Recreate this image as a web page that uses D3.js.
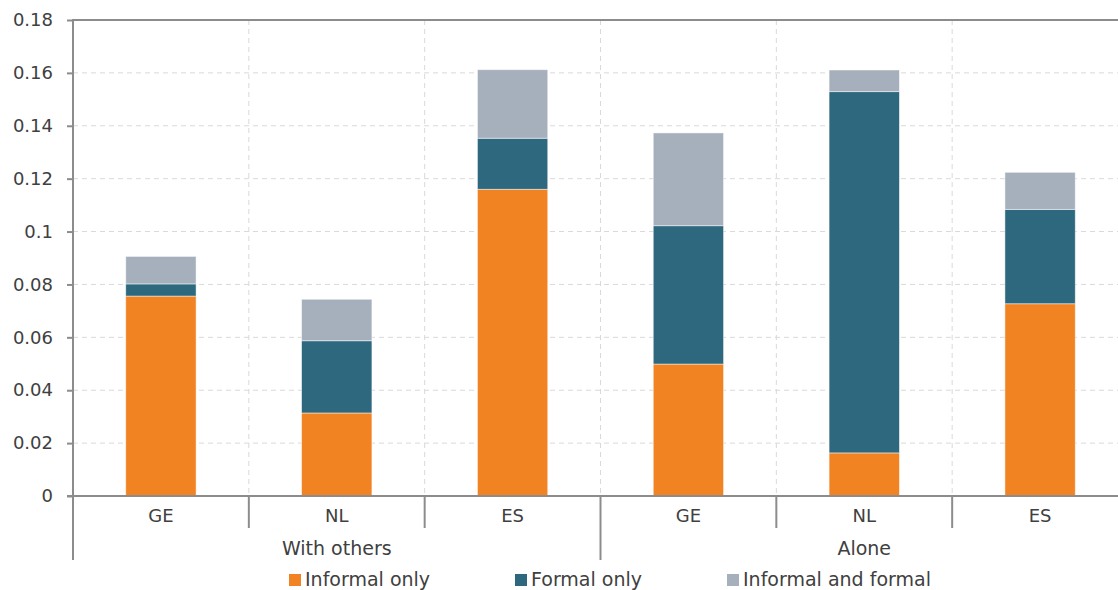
<!DOCTYPE html>
<html><head><meta charset="utf-8">
<script src="https://cdn.jsdelivr.net/npm/d3@7"></script>
<style>body{margin:0;background:#fff}svg{display:block}text{font-family:"DejaVu Sans",sans-serif;fill:#404040}</style>
</head><body><svg id="c" width="1118" height="590"></svg>
<script>
const groups = ["With others", "Alone"];
const countries = ["GE", "NL", "ES"];
const categories = ["With others|GE","With others|NL","With others|ES","Alone|GE","Alone|NL","Alone|ES"];
const seriesNames = ["Informal only", "Formal only", "Informal and formal"];
const informalOnly = [0.0756, 0.0314, 0.1160, 0.0499, 0.0163, 0.0727];
const formalOnly = [0.0046, 0.0273, 0.0193, 0.0523, 0.1366, 0.0357];
const informalAndFormal = [0.0104, 0.0157, 0.0259, 0.0351, 0.0082, 0.0140];
const yTicks = [0, 0.02, 0.04, 0.06, 0.08, 0.1, 0.12, 0.14, 0.16, 0.18];
const colors = ["#F28322", "#2E687E", "#A6B0BD"];

const svg = d3.select("#c");
const L = 73, T = 20, R = 1128, B = 496;
const x = d3.scaleBand().domain(categories).range([L, R]).paddingInner(0.6).paddingOuter(0.3);
const y = d3.scaleLinear().domain([0, 0.18]).range([B, T]);
const step = x.step();
const axisColor = "#8c8c8c";

// gridlines
svg.append("g").selectAll("line").data(yTicks.filter(t => t > 0 && t < 0.18)).join("line")
  .attr("x1", L).attr("x2", R).attr("y1", d => y(d)).attr("y2", d => y(d))
  .attr("stroke", "#d9d9d9").attr("stroke-width", 1).attr("stroke-dasharray", "5,4");
const bounds = categories.slice(1).map((c, i) => L + step * (i + 1));
svg.append("g").selectAll("line").data(bounds).join("line")
  .attr("x1", d => d).attr("x2", d => d).attr("y1", T).attr("y2", B)
  .attr("stroke", "#d9d9d9").attr("stroke-width", 1).attr("stroke-dasharray", "5,4");

// stacked data
const rows = categories.map((c, i) => ({cat: c, s0: informalOnly[i], s1: formalOnly[i], s2: informalAndFormal[i]}));
const stack = d3.stack().keys(["s0", "s1", "s2"])(rows);
svg.append("g").selectAll("g").data(stack).join("g")
  .attr("fill", (d, i) => colors[i])
  .selectAll("rect").data(d => d).join("rect")
  .attr("x", d => x(d.data.cat)).attr("width", x.bandwidth())
  .attr("y", d => y(d[1])).attr("height", d => y(d[0]) - y(d[1]))
  .attr("stroke", "#ffffff").attr("stroke-opacity", 0.6).attr("stroke-width", 0.8);

// y axis
const yAxis = svg.append("g").attr("transform", `translate(${L},0)`)
  .call(d3.axisLeft(y).tickValues(yTicks).tickSize(6).tickPadding(14).tickFormat(d => d3.format("~g")(d)));
yAxis.select(".domain").remove();
yAxis.selectAll("line").attr("stroke", axisColor).attr("stroke-width", 2);
yAxis.selectAll("text").attr("font-size", 18).style("fill", "#404040").attr("font-family", "DejaVu Sans");

// frame lines
svg.append("line").attr("x1", L).attr("x2", R).attr("y1", T).attr("y2", T).attr("stroke", axisColor).attr("stroke-width", 2);
svg.append("line").attr("x1", L).attr("x2", L).attr("y1", T - 1).attr("y2", 560).attr("stroke", axisColor).attr("stroke-width", 2);
svg.append("line").attr("x1", L - 6).attr("x2", R).attr("y1", B).attr("y2", B).attr("stroke", axisColor).attr("stroke-width", 2);

// category tick separators
svg.append("g").selectAll("line").data(bounds).join("line")
  .attr("x1", d => d).attr("x2", d => d).attr("y1", B).attr("y2", (d, i) => i === 2 ? 560 : 528)
  .attr("stroke", axisColor).attr("stroke-width", 2);

// category labels
svg.append("g").selectAll("text").data(categories).join("text")
  .attr("x", d => x(d) + x.bandwidth() / 2).attr("y", 522)
  .attr("text-anchor", "middle").attr("font-size", 18).text(d => d.split("|")[1]);
// group labels
svg.append("g").selectAll("text").data(groups).join("text")
  .attr("x", (d, i) => L + step * 3 * i + step * 1.5).attr("y", 555)
  .attr("text-anchor", "middle").attr("font-size", 19).text(d => d);

// legend
const legX = [289, 515, 727];
const leg = svg.append("g").selectAll("g").data(seriesNames).join("g")
  .attr("transform", (d, i) => `translate(${legX[i]},574)`);
leg.append("rect").attr("width", 12).attr("height", 12).attr("fill", (d, i) => colors[i]);
leg.append("text").attr("x", 16).attr("y", 12).attr("font-size", 19).text(d => d);
</script></body></html>
